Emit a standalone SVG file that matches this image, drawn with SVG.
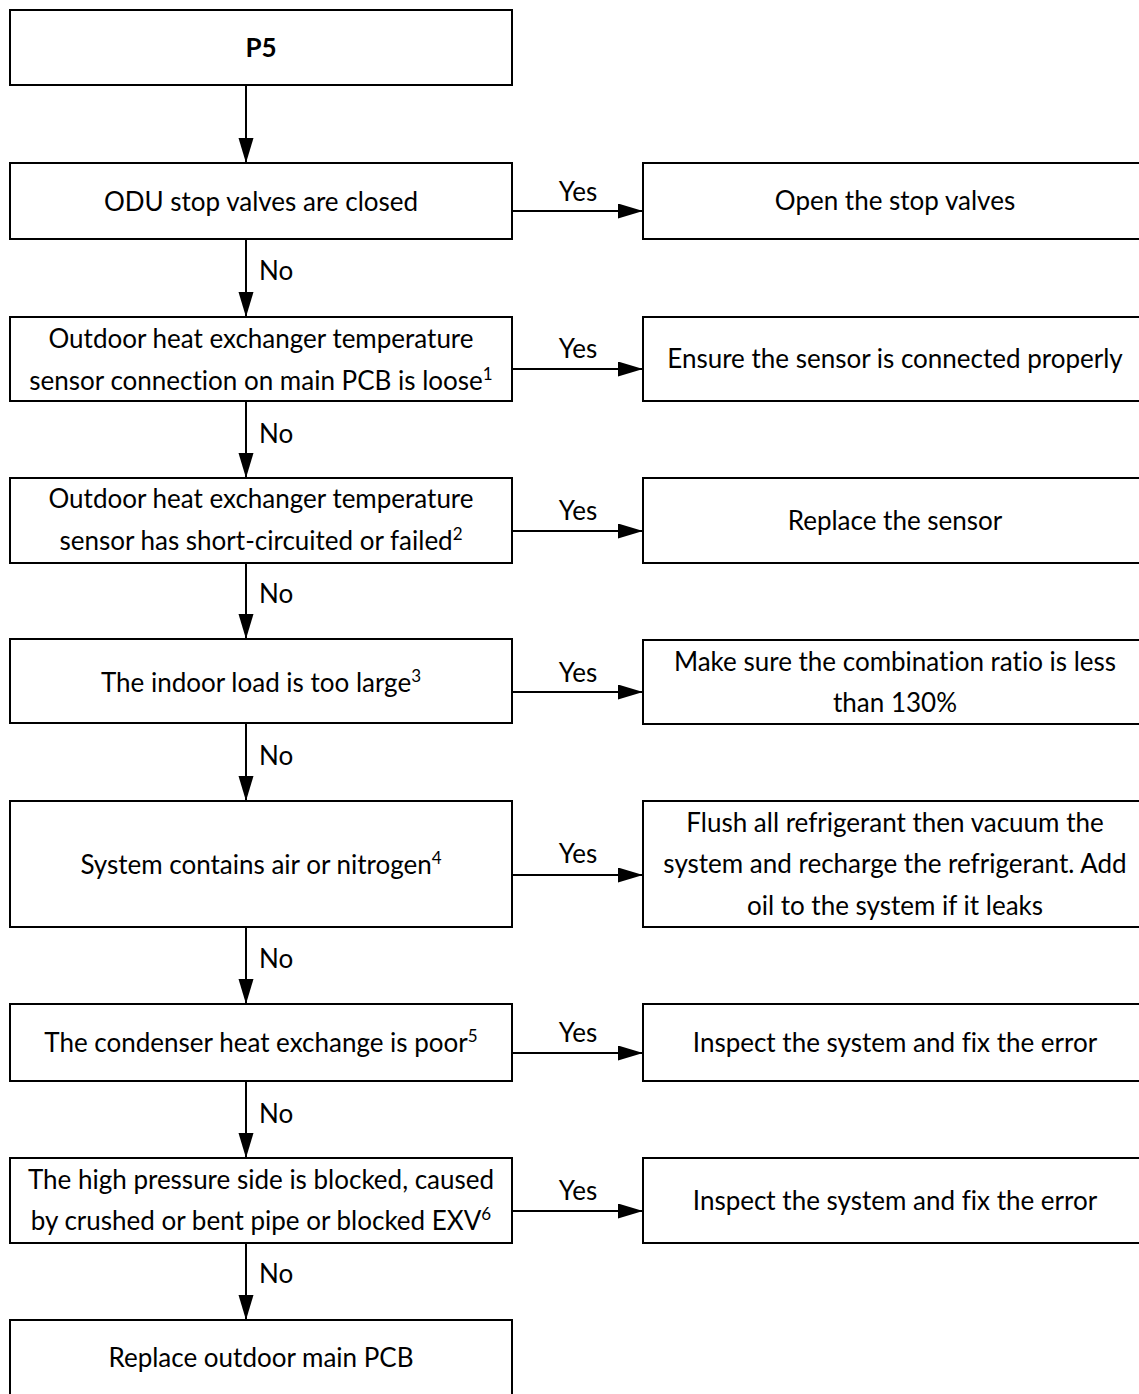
<svg xmlns="http://www.w3.org/2000/svg" width="1139" height="1394" viewBox="0 0 1139 1394">
<defs>
<style>
.box{fill:#fff;stroke:#000;stroke-width:2}
.t{font-family:Lato,"Open Sans",sans-serif;font-size:26px;fill:#000;text-anchor:middle;font-variant-ligatures:none}
.b{font-weight:bold}
.lbl{font-family:Lato,"Open Sans",sans-serif;font-size:26px;fill:#000}
.yes{text-anchor:middle}
.c{stroke:#000;stroke-width:2;fill:none;marker-end:url(#ah)}
.sup{font-size:17px}
</style>
<marker id="ah" markerUnits="userSpaceOnUse" markerWidth="26" markerHeight="16" refX="25" refY="7.5" orient="auto">
<path d="M0,0 L25,7.5 L0,15 z" fill="#000"/>
</marker>
</defs>
<rect width="1139" height="1394" fill="#fff"/>
<g id="connectors">
<line class="c" x1="246" y1="85" x2="246" y2="163"/>
<line class="c" x1="246" y1="239" x2="246" y2="317"/>
<line class="c" x1="246" y1="401" x2="246" y2="478"/>
<line class="c" x1="246" y1="563" x2="246" y2="639"/>
<line class="c" x1="246" y1="723" x2="246" y2="801"/>
<line class="c" x1="246" y1="927" x2="246" y2="1004"/>
<line class="c" x1="246" y1="1081" x2="246" y2="1158"/>
<line class="c" x1="246" y1="1243" x2="246" y2="1320"/>
<line class="c" x1="512" y1="211" x2="643" y2="211"/>
<line class="c" x1="512" y1="369" x2="643" y2="369"/>
<line class="c" x1="512" y1="531" x2="643" y2="531"/>
<line class="c" x1="512" y1="692" x2="643" y2="692"/>
<line class="c" x1="512" y1="875" x2="643" y2="875"/>
<line class="c" x1="512" y1="1053" x2="643" y2="1053"/>
<line class="c" x1="512" y1="1211" x2="643" y2="1211"/>
<text class="lbl" x="259" y="280">No</text>
<text class="lbl" x="259" y="443">No</text>
<text class="lbl" x="259" y="603">No</text>
<text class="lbl" x="259" y="765">No</text>
<text class="lbl" x="259" y="968">No</text>
<text class="lbl" x="259" y="1123">No</text>
<text class="lbl" x="259" y="1283">No</text>
<text class="lbl yes" x="578" y="201">Yes</text>
<text class="lbl yes" x="578" y="358">Yes</text>
<text class="lbl yes" x="578" y="520">Yes</text>
<text class="lbl yes" x="578" y="682">Yes</text>
<text class="lbl yes" x="578" y="863">Yes</text>
<text class="lbl yes" x="578" y="1042">Yes</text>
<text class="lbl yes" x="578" y="1200">Yes</text>
</g>
<g id="n0"><rect class="box" x="10" y="10" width="502" height="75"/><text class="t b" x="261" y="57">P5</text></g>
<g id="n1"><rect class="box" x="10" y="163" width="502" height="76"/><text class="t" x="261" y="211">ODU stop valves are closed</text></g>
<g id="n2"><rect class="box" x="10" y="317" width="502" height="84"/><text class="t" x="261" y="348">Outdoor heat exchanger temperature</text><text class="t" x="261" y="390">sensor connection on main PCB is loose<tspan class="sup" dy="-10">1</tspan></text></g>
<g id="n3"><rect class="box" x="10" y="478" width="502" height="85"/><text class="t" x="261" y="508">Outdoor heat exchanger temperature</text><text class="t" x="261" y="550">sensor has short-circuited or failed<tspan class="sup" dy="-10">2</tspan></text></g>
<g id="n4"><rect class="box" x="10" y="639" width="502" height="84"/><text class="t" x="261" y="692">The indoor load is too large<tspan class="sup" dy="-10">3</tspan></text></g>
<g id="n5"><rect class="box" x="10" y="801" width="502" height="126"/><text class="t" x="261" y="874">System contains air or nitrogen<tspan class="sup" dy="-10">4</tspan></text></g>
<g id="n6"><rect class="box" x="10" y="1004" width="502" height="77"/><text class="t" x="261" y="1052">The condenser heat exchange is poor<tspan class="sup" dy="-10">5</tspan></text></g>
<g id="n7"><rect class="box" x="10" y="1158" width="502" height="85"/><text class="t" x="261" y="1189">The high pressure side is blocked, caused</text><text class="t" x="261" y="1230">by crushed or bent pipe or blocked EXV<tspan class="sup" dy="-10">6</tspan></text></g>
<g id="n8"><rect class="box" x="10" y="1320" width="502" height="76"/><text class="t" x="261" y="1367">Replace outdoor main PCB</text></g>
<g id="r1"><rect class="box" x="643" y="163" width="504" height="76"/><text class="t" x="895" y="210">Open the stop valves</text></g>
<g id="r2"><rect class="box" x="643" y="317" width="504" height="84"/><text class="t" x="895" y="368">Ensure the sensor is connected properly</text></g>
<g id="r3"><rect class="box" x="643" y="478" width="504" height="85"/><text class="t" x="895" y="530">Replace the sensor</text></g>
<g id="r4"><rect class="box" x="643" y="640" width="504" height="84"/><text class="t" x="895" y="671">Make sure the combination ratio is less</text><text class="t" x="895" y="712">than 130%</text></g>
<g id="r5"><rect class="box" x="643" y="801" width="504" height="126"/><text class="t" x="895" y="832">Flush all refrigerant then vacuum the</text><text class="t" x="895" y="873">system and recharge the refrigerant. Add</text><text class="t" x="895" y="915">oil to the system if it leaks</text></g>
<g id="r6"><rect class="box" x="643" y="1004" width="504" height="77"/><text class="t" x="895" y="1052">Inspect the system and fix the error</text></g>
<g id="r7"><rect class="box" x="643" y="1158" width="504" height="85"/><text class="t" x="895" y="1210">Inspect the system and fix the error</text></g>
</svg>
